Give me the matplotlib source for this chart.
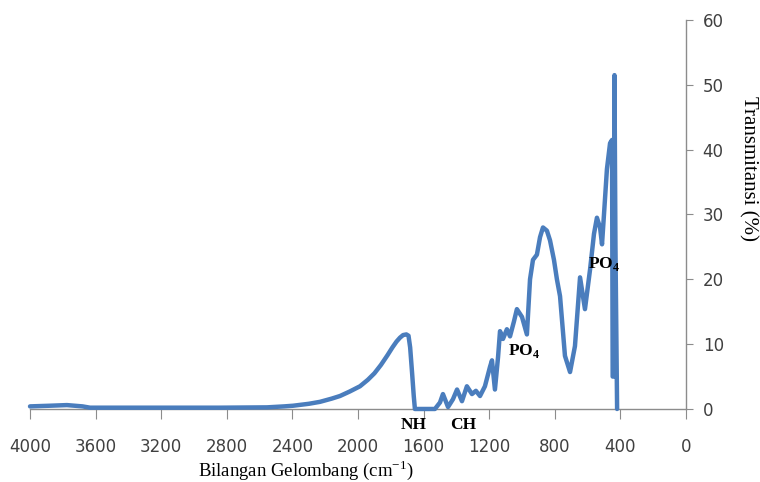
"""Spektrum FTIR: transmitansi vs bilangan gelombang."""

import matplotlib

matplotlib.use("Agg")
import matplotlib.pyplot as plt

# data (cm^-1, %)
wavenumber = [4000, 3880, 3775, 3680, 3634, 3269, 2842, 2555, 2450, 2396,
              2300, 2232, 2160, 2110, 2050, 1988, 1940, 1900, 1860, 1820,
              1790, 1765, 1744, 1725, 1705, 1692, 1682, 1670, 1660, 1653,
              1531, 1500, 1482, 1451, 1421, 1396, 1366, 1336, 1305, 1281,
              1256, 1226, 1195, 1183, 1165, 1146, 1134, 1116, 1092, 1073,
              1049, 1031, 1000, 970, 951, 933, 909, 890, 872, 848,
              829, 805, 787, 768, 738, 707, 677, 646, 616, 585,
              561, 543, 524, 512, 500, 482, 463, 451, 447, 440,
              436, 430, 420]
transmitansi = [0.4, 0.5, 0.6, 0.4, 0.2, 0.2, 0.2, 0.25, 0.4, 0.5,
                0.8, 1.1, 1.6, 2.0, 2.7, 3.5, 4.5, 5.5, 6.8, 8.3,
                9.5, 10.4, 11.0, 11.4, 11.5, 11.3, 9.5, 5.5, 2.0, 0.0,
                0.0, 1.0, 2.3, 0.3, 1.5, 3.0, 1.2, 3.5, 2.3, 2.8,
                2.0, 3.5, 6.5, 7.5, 3.0, 8.0, 12.0, 10.8, 12.3, 11.2,
                13.5, 15.4, 14.2, 11.5, 20.0, 23.0, 23.8, 26.5, 28.0, 27.5,
                26.0, 23.0, 20.0, 17.4, 8.2, 5.7, 9.7, 20.3, 15.4, 21.5,
                27.0, 29.5, 28.0, 25.4, 30.0, 37.0, 41.0, 41.5, 5.0, 5.0,
                51.5, 25.0, 0.0]

xticks = list(range(4000, -1, -400))
yticks = list(range(0, 61, 10))

# label gugus fungsi: (teks, x, y dalam koordinat data)
labels = [("NH", 1660, -2.5), ("CH", 1360, -2.5),
          ("PO$_\\mathregular{4}$", 985, 8.9), ("PO$_\\mathregular{4}$", 500, 22.4)]

LINE = "#4a7dbd"
GREY = "#8c8c8c"

fig = plt.figure(figsize=(7.6, 4.82), dpi=100)
ax = fig.add_axes([0.0395, 0.1515, 0.8631, 0.807])

ax.plot(wavenumber, transmitansi, color=LINE, lw=3.2, solid_joinstyle="round",
        solid_capstyle="round", clip_on=False, zorder=3)

ax.set_xlim(4000, 0)
ax.set_ylim(0, 60)
ax.set_xticks(xticks)
ax.set_yticks(yticks)
ax.yaxis.tick_right()
ax.yaxis.set_label_position("right")

for side in ("top", "left"):
    ax.spines[side].set_visible(False)
for side in ("bottom", "right"):
    ax.spines[side].set_color(GREY)
    ax.spines[side].set_linewidth(1.0)

ax.tick_params(axis="x", direction="out", length=7, color=GREY, pad=14,
               labelsize=12, labelcolor="#404040")
ax.tick_params(axis="y", direction="out", length=5, color=GREY, pad=7,
               labelsize=12, labelcolor="#404040")

serif = ["Liberation Serif", "DejaVu Serif"]
for text, x, y in labels:
    ax.text(x, y, text, ha="center", va="center", fontsize=12.5,
            fontweight="bold", family=serif, clip_on=False, zorder=4)

fig.text(0.403, 0.024, "Bilangan Gelombang (cm$^{\\mathregular{-1}}$)",
         ha="center", va="center", fontsize=13.5, family=serif)
fig.text(0.984, 0.65, "Transmitansi (%)", ha="center", va="center",
         rotation=-90, fontsize=15, family=serif)

fig.savefig("out.png", dpi=100)
plt.close(fig)
